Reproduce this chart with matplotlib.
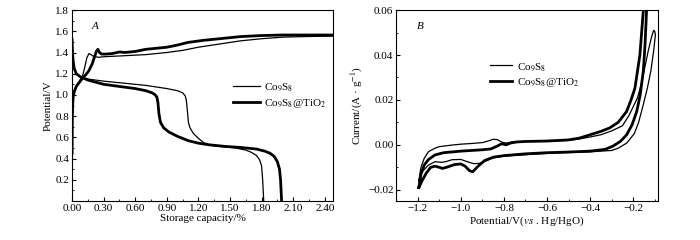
import matplotlib
matplotlib.use("Agg")
import matplotlib.pyplot as plt
from matplotlib.ticker import MultipleLocator, FormatStrFormatter, FuncFormatter

plt.rcParams["font.family"] = "serif"
plt.rcParams["font.serif"] = ["Liberation Serif", "DejaVu Serif"]
plt.rcParams["mathtext.fontset"] = "stix"
plt.rcParams["font.size"] = 8

# A: discharge / charge curves (capacity %, potential V)
cap_dis_co = [0, 0.003, 0.01, 0.02, 0.04, 0.08, 0.15, 0.3, 0.5, 0.7, 0.9, 1.0, 1.05, 1.075, 1.085,
              1.095, 1.105, 1.12, 1.15, 1.2, 1.25, 1.3, 1.35, 1.45, 1.55, 1.65, 1.7, 1.75, 1.78, 1.8,
              1.81, 1.815, 1.82]
v_dis_co = [1.52, 1.42, 1.32, 1.25, 1.20, 1.17, 1.15, 1.13, 1.11, 1.09, 1.06, 1.04, 1.02, 0.99, 0.95,
            0.85, 0.74, 0.69, 0.64, 0.59, 0.55, 0.53, 0.52, 0.51, 0.50, 0.48, 0.46, 0.43, 0.39, 0.33,
            0.2, 0.1, 0.0]
cap_dis_ti = [0, 0.003, 0.01, 0.02, 0.04, 0.08, 0.15, 0.3, 0.45, 0.6, 0.7, 0.76, 0.79, 0.805, 0.815,
              0.825, 0.84, 0.87, 0.92, 1.0, 1.1, 1.2, 1.3, 1.45, 1.6, 1.75, 1.83, 1.88, 1.92, 1.95,
              1.97, 1.98, 1.985, 1.99]
v_dis_ti = [1.52, 1.42, 1.32, 1.25, 1.20, 1.17, 1.14, 1.10, 1.08, 1.06, 1.04, 1.02, 1.00, 0.98, 0.93,
            0.82, 0.74, 0.69, 0.65, 0.61, 0.57, 0.545, 0.53, 0.515, 0.505, 0.49, 0.47, 0.45, 0.42,
            0.37, 0.3, 0.2, 0.1, 0.0]
cap_chg_co = [0, 0.002, 0.005, 0.01, 0.02, 0.04, 0.07, 0.1, 0.12, 0.14, 0.16, 0.18, 0.2, 0.25, 0.3,
              0.5, 0.7, 0.9, 1.05, 1.2, 1.4, 1.6, 1.8, 2.0, 2.2, 2.48]
v_chg_co = [0.45, 0.75, 0.9, 0.98, 1.04, 1.09, 1.13, 1.18, 1.26, 1.35, 1.39, 1.38, 1.365, 1.355, 1.36,
            1.37, 1.38, 1.40, 1.42, 1.45, 1.48, 1.51, 1.53, 1.545, 1.55, 1.555]
cap_chg_ti = [0, 0.002, 0.005, 0.01, 0.02, 0.04, 0.07, 0.1, 0.13, 0.16, 0.19, 0.21, 0.23, 0.245, 0.26,
              0.28, 0.32, 0.38, 0.45, 0.5, 0.6, 0.7, 0.8, 0.9, 1.0, 1.1, 1.25, 1.4, 1.6, 1.8, 2.0,
              2.2, 2.48]
v_chg_ti = [0.45, 0.75, 0.9, 0.98, 1.03, 1.08, 1.12, 1.16, 1.19, 1.23, 1.29, 1.35, 1.41, 1.43, 1.40,
            1.385, 1.385, 1.39, 1.405, 1.40, 1.41, 1.43, 1.44, 1.45, 1.47, 1.495, 1.515, 1.53, 1.55,
            1.56, 1.565, 1.565, 1.565]

# B: CV loops (potential V, current A/g)
e_co = [-1.195, -1.185, -1.17, -1.15, -1.12, -1.1, -1.05, -1.0, -0.95, -0.9, -0.87, -0.85, -0.83,
        -0.81, -0.79, -0.76, -0.7, -0.6, -0.5, -0.45, -0.4, -0.35, -0.3, -0.25, -0.22, -0.2, -0.18,
        -0.16, -0.145, -0.13, -0.115, -0.105, -0.1, -0.097, -0.105, -0.118, -0.135, -0.153, -0.175,
        -0.195, -0.23, -0.27, -0.3, -0.4, -0.5, -0.6, -0.7, -0.8, -0.85, -0.88, -0.91, -0.94, -0.97,
        -1.0, -1.04, -1.07, -1.09, -1.12, -1.15, -1.18, -1.195]
i_co = [-0.016, -0.01, -0.006, -0.003, -0.0015, -0.0008, -0.0002, 0.0003, 0.0006, 0.001, 0.0018,
        0.0025, 0.0023, 0.0012, 0.0008, 0.0013, 0.0015, 0.0016, 0.002, 0.0026, 0.0035, 0.0045,
        0.0062, 0.0085, 0.013, 0.017, 0.021, 0.028, 0.035, 0.042, 0.048, 0.051, 0.0505, 0.049, 0.042,
        0.033, 0.025, 0.018, 0.01, 0.005, 0.0008, -0.0015, -0.0025, -0.0031, -0.0034, -0.0038,
        -0.0044, -0.005, -0.0058, -0.007, -0.0082, -0.0084, -0.0075, -0.0065, -0.0066, -0.0075,
        -0.0078, -0.0075, -0.009, -0.012, -0.016]
e_ti = [-1.195, -1.185, -1.17, -1.15, -1.12, -1.08, -1.0, -0.9, -0.86, -0.83, -0.81, -0.79, -0.77,
        -0.74, -0.7, -0.6, -0.5, -0.45, -0.4, -0.35, -0.31, -0.27, -0.231, -0.21, -0.192, -0.169,
        -0.153, -0.15, -0.136, -0.138, -0.145, -0.153, -0.168, -0.184, -0.205, -0.231, -0.26, -0.293,
        -0.33, -0.4, -0.5, -0.6, -0.7, -0.8, -0.85, -0.89, -0.92, -0.945, -0.96, -0.98, -1.0, -1.03,
        -1.06, -1.085, -1.1, -1.12, -1.14, -1.16, -1.18, -1.195]
i_ti = [-0.019, -0.013, -0.009, -0.0065, -0.0045, -0.0035, -0.0028, -0.0022, -0.0018, -0.0005,
        0.0005, 0.0, 0.0008, 0.0013, 0.0015, 0.0017, 0.0022, 0.003, 0.0045, 0.006, 0.0075, 0.01,
        0.0148, 0.02, 0.0253, 0.04, 0.06, 0.066, 0.066, 0.06, 0.045, 0.033, 0.022, 0.0148, 0.009,
        0.0044, 0.0015, -0.0005, -0.002, -0.0028, -0.0032, -0.0035, -0.004, -0.0048, -0.0055,
        -0.007, -0.0095, -0.012, -0.0115, -0.0095, -0.0085, -0.0088, -0.0098, -0.0105, -0.01,
        -0.0095, -0.01, -0.0125, -0.016, -0.019]

lab_co = r"Co$_9$S$_8$"
lab_ti = r"Co$_9$S$_8$@TiO$_2$"


def minus_fmt(fmt):
    # real minus sign like the original figure
    return FuncFormatter(lambda v, pos: (fmt % v).replace("-", "\u2212") if abs(v) > 1e-9 else fmt % 0)


fig = plt.figure(figsize=(7, 2.4), dpi=100)
axA = fig.add_axes([0.103, 0.1625, 0.373, 0.7955])
axB = fig.add_axes([0.566, 0.1625, 0.374, 0.7955])

thin, thick = 0.9, 2.0

axA.plot(cap_dis_co, v_dis_co, color="black", lw=thin, label=lab_co)
axA.plot(cap_chg_co, v_chg_co, color="black", lw=thin)
axA.plot(cap_dis_ti, v_dis_ti, color="black", lw=thick, label=lab_ti)
axA.plot(cap_chg_ti, v_chg_ti, color="black", lw=thick)
axA.set_xlim(0, 2.48)
axA.set_ylim(0, 1.8)
axA.set_xticks([0, 0.3, 0.6, 0.9, 1.2, 1.5, 1.8, 2.1, 2.4])
axA.xaxis.set_major_formatter(FormatStrFormatter("%.2f"))
axA.xaxis.set_minor_locator(MultipleLocator(0.15))
axA.set_yticks([0.2, 0.4, 0.6, 0.8, 1.0, 1.2, 1.4, 1.6, 1.8])
axA.yaxis.set_major_formatter(FormatStrFormatter("%.1f"))
axA.yaxis.set_minor_locator(MultipleLocator(0.1))
axA.set_xlabel("Storage capacity/%", labelpad=1)
axA.set_ylabel("Potential/V", labelpad=2)
axA.text(0.088, 0.915, "A", transform=axA.transAxes, style="italic", ha="center", va="center")
axA.legend(loc="center left", bbox_to_anchor=(0.6, 0.552), frameon=False, handlelength=2.4,
           handletextpad=0.4, labelspacing=0.3, borderaxespad=0, fontsize=8)

axB.plot(e_co, i_co, color="black", lw=thin, label=lab_co)
axB.plot(e_ti, i_ti, color="black", lw=thick, label=lab_ti)
axB.set_xlim(-1.3, -0.085)
axB.set_ylim(-0.025, 0.06)
axB.xaxis.set_major_locator(MultipleLocator(0.2))
axB.xaxis.set_major_formatter(minus_fmt("%.1f"))
axB.xaxis.set_minor_locator(MultipleLocator(0.1))
axB.set_yticks([-0.02, 0.0, 0.02, 0.04, 0.06])
axB.yaxis.set_major_formatter(minus_fmt("%.2f"))
axB.yaxis.set_minor_locator(MultipleLocator(0.01))
axB.set_xlabel(r"Potential/V($\mathit{vs}$ . Hg/HgO)", labelpad=1)
axB.set_ylabel(r"Current/(A · g$^{-1}$)", labelpad=2)
axB.text(0.092, 0.915, "B", transform=axB.transAxes, style="italic", ha="center", va="center")
axB.legend(loc="center left", bbox_to_anchor=(0.34, 0.66), frameon=False, handlelength=2.0,
           handletextpad=0.5, labelspacing=0.3, borderaxespad=0, fontsize=8)

for ax in (axA, axB):
    ax.tick_params(which="both", direction="in", top=False, right=False, labelsize=8, pad=2)
    ax.tick_params(which="major", length=3)
    ax.tick_params(which="minor", length=1.5)
    for s in ax.spines.values():
        s.set_linewidth(0.8)

fig.savefig("out.png", dpi=100)
